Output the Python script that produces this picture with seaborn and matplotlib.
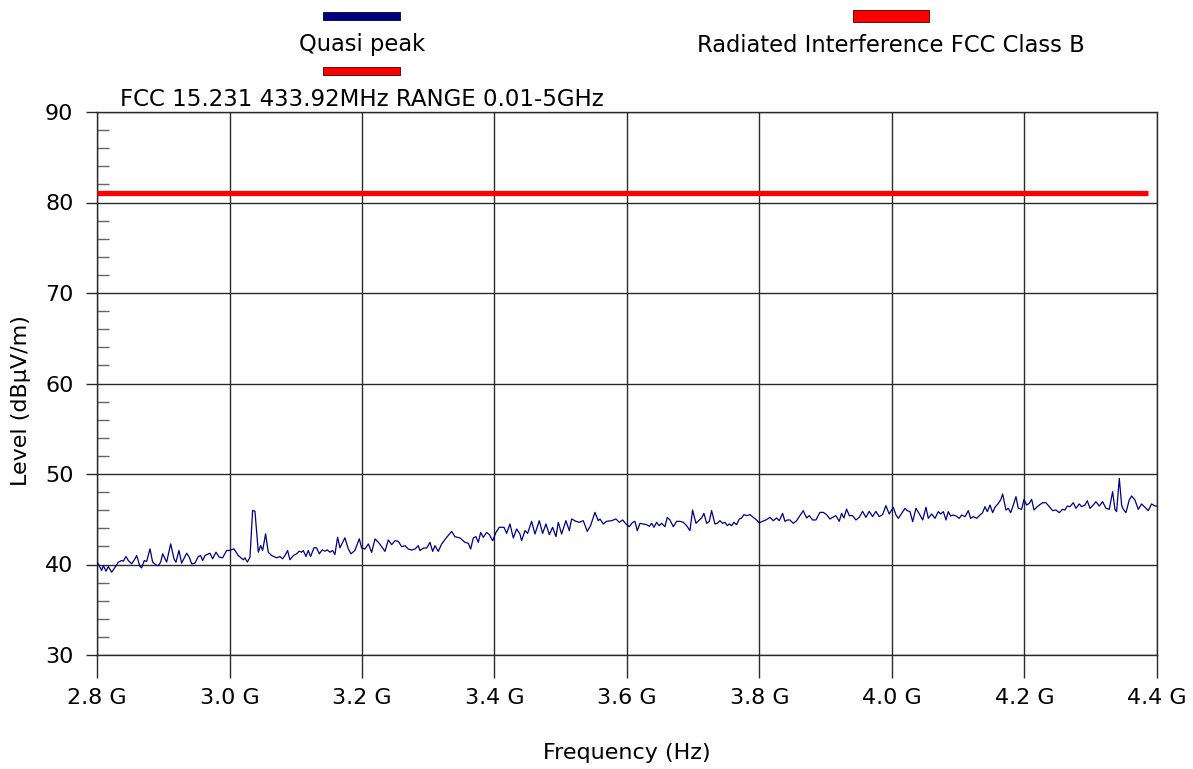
import numpy as np
import pandas as pd
import matplotlib
matplotlib.use("Agg")
import matplotlib.pyplot as plt
import seaborn as sns
from matplotlib.patches import Rectangle
from matplotlib.ticker import MultipleLocator, FixedLocator

# ---------------- data ----------------
freq_mhz = [
    2800.5, 2807.0, 2809.6, 2813.6, 2817.1, 2822.1, 2825.7, 2832.2, 2837.2, 2839.7,
    2843.8, 2847.3, 2852.3, 2857.3, 2859.9, 2864.9, 2867.4, 2871.4, 2874.9, 2880.0,
    2884.0, 2890.0, 2892.6, 2896.1, 2899.1, 2905.1, 2911.2, 2916.2, 2919.2, 2923.7,
    2927.8, 2935.3, 2939.3, 2942.9, 2947.9, 2952.9, 2956.4, 2959.5, 2963.0, 2970.5,
    2974.5, 2979.6, 2984.6, 2989.6, 2995.7, 2999.7, 3006.7, 3013.3, 3020.8, 3023.3,
    3026.9, 3030.9, 3034.9, 3038.4, 3043.5, 3047.0, 3050.0, 3054.5, 3058.5, 3063.6,
    3071.1, 3076.1, 3080.2, 3083.7, 3087.7, 3091.2, 3096.3, 3101.3, 3105.3, 3108.8,
    3111.4, 3115.4, 3118.9, 3122.4, 3127.5, 3131.5, 3135.5, 3140.0, 3144.1, 3147.6,
    3151.6, 3155.6, 3159.1, 3163.2, 3166.7, 3174.2, 3179.3, 3183.3, 3189.3, 3195.9,
    3199.5, 3204.5, 3209.6, 3214.6, 3219.6, 3224.7, 3229.7, 3234.7, 3239.7, 3244.8,
    3249.8, 3254.8, 3259.9, 3264.9, 3269.9, 3275.0, 3280.0, 3285.0, 3287.5, 3292.6,
    3297.6, 3302.6, 3306.6, 3310.2, 3315.2, 3320.2, 3327.8, 3335.3, 3340.3, 3347.9,
    3355.4, 3360.5, 3364.0, 3368.0, 3372.0, 3375.6, 3379.1, 3383.1, 3388.1, 3392.2,
    3397.2, 3402.2, 3407.2, 3414.3, 3418.3, 3423.3, 3428.4, 3433.4, 3438.4, 3440.9,
    3446.0, 3450.0, 3456.0, 3461.1, 3467.6, 3472.6, 3477.7, 3482.7, 3487.7, 3492.8,
    3496.3, 3501.3, 3507.8, 3512.9, 3516.4, 3522.9, 3528.0, 3534.0, 3540.0, 3545.0,
    3551.6, 3556.6, 3559.2, 3564.2, 3569.2, 3576.8, 3583.3, 3588.3,
    3593.4, 3598.4, 3603.5, 3608.5, 3612.0, 3615.5, 3619.6, 3624.6, 3629.6, 3633.7,
    3637.2, 3640.7, 3644.7, 3648.7, 3652.3, 3657.3, 3660.8, 3664.8, 3669.9, 3674.9,
    3679.9, 3685.0, 3690.0, 3695.0, 3699.0, 3704.1, 3709.1, 3712.6, 3716.1, 3720.2,
    3724.2, 3727.7, 3732.7, 3736.3, 3740.3, 3744.3, 3747.8, 3751.4, 3754.4, 3757.9,
    3761.4, 3765.4, 3769.5, 3773.0, 3776.5, 3780.5, 3785.6, 3790.6, 3795.6, 3799.6,
    3804.7, 3809.7, 3815.7, 3820.8, 3825.8, 3829.8, 3834.9, 3838.4, 3841.9, 3845.9,
    3851.0, 3856.0, 3860.0, 3866.0, 3871.1, 3875.1, 3880.1, 3885.2, 3891.2, 3896.2,
    3901.3, 3906.3, 3910.3, 3915.3, 3920.4, 3923.9, 3927.4, 3931.4, 3935.5, 3940.5,
    3945.5, 3950.5, 3955.6, 3960.6, 3965.6, 3970.7, 3975.7, 3980.7, 3985.8, 3990.8,
    3995.8,
    3997.0, 4002.0, 4006.0, 4009.6, 4014.6, 4019.6, 4023.1, 4027.2, 4031.2, 4036.2,
    4041.3, 4046.3, 4051.3, 4054.8, 4059.9, 4064.9, 4069.9, 4073.4, 4077.5, 4081.5,
    4085.0, 4088.5, 4092.6, 4096.6, 4101.6, 4105.1, 4110.2, 4115.2, 4118.7, 4122.7,
    4127.8, 4132.8, 4136.8, 4140.3, 4143.9, 4147.9, 4151.9, 4155.4, 4160.5, 4164.0,
    4167.0, 4172.0, 4175.6, 4179.1, 4183.1, 4187.1, 4190.6, 4195.7, 4199.2, 4203.2,
    4207.2, 4210.8, 4214.3, 4218.3, 4222.3, 4227.4, 4232.4, 4237.4, 4242.5, 4247.5,
    4252.5, 4257.5, 4261.1, 4264.6, 4268.6, 4273.6, 4277.7, 4282.7, 4286.2, 4291.2,
    4294.8, 4298.8, 4303.8, 4307.8, 4312.9, 4317.9, 4322.9, 4328.0, 4333.0, 4336.5,
    4339.0, 4343.1, 4346.6, 4349.1, 4353.1, 4358.1, 4361.7, 4366.7, 4371.7, 4376.8,
    4381.8, 4386.8, 4391.8, 4396.9, 4399.4,
]

quasi_peak_dbuv = [
    40.26, 39.34, 39.89, 39.26, 39.78, 39.15, 39.52, 40.26, 40.44, 40.37,
    40.88, 40.44, 40.07, 40.63, 40.99, 39.78, 39.63, 40.44, 40.33, 41.73,
    40.26, 39.89, 39.89, 40.26, 41.18, 40.26, 42.28, 40.63, 40.26, 41.55,
    40.15, 41.25, 40.81, 40.07, 40.15, 40.88, 40.99, 40.44, 40.99, 41.25,
    40.63, 41.36, 40.81, 40.74, 41.55, 41.55, 41.73, 40.99, 40.52, 40.74,
    40.26, 40.81, 45.97, 45.89, 41.36, 42.10, 41.55, 43.39, 41.36, 40.99,
    40.74, 40.88, 40.63, 40.99, 41.55, 40.52, 40.99, 41.18, 41.47, 41.36,
    41.55, 40.88, 41.55, 40.88, 41.84, 41.84, 41.18, 41.62, 41.47, 41.62,
    41.36, 41.55, 41.10, 43.02, 41.84, 42.95, 41.73, 41.18, 41.55, 42.84,
    41.82, 41.71, 42.27, 41.34, 42.82, 42.45, 41.97, 41.45, 42.71, 42.19,
    42.63, 42.56, 41.97, 42.08, 41.71, 41.60, 41.71, 42.08, 41.53, 41.82,
    41.82, 42.45, 41.45, 42.08, 41.45, 42.27, 43.00, 43.66, 43.08, 42.93,
    42.45, 42.34, 41.71, 42.93, 43.08, 42.45, 43.55, 43.00, 43.55, 43.30,
    42.63, 43.55, 44.11, 44.11, 43.44, 44.48, 42.93, 43.92, 43.37, 42.63,
    43.74, 43.44, 44.77, 43.37, 44.84, 43.44, 44.48, 43.30, 44.11, 43.08,
    44.66, 43.37, 44.84, 43.74, 45.03, 44.77, 44.66, 44.84, 43.66, 44.29,
    45.76, 44.84, 45.03, 44.48, 44.77, 44.84, 45.03, 44.66,
    44.92, 44.48, 44.18, 44.66, 44.77, 43.74, 44.55, 44.48, 44.40, 44.22,
    44.55, 44.11, 44.66, 44.29, 44.55, 44.18, 45.21, 44.92, 44.18, 44.77,
    44.77, 44.66, 44.29, 43.74, 46.02, 44.55, 44.92, 45.14, 45.65, 44.55,
    44.77, 45.95, 44.48, 44.55, 44.84, 44.55, 44.66, 44.29, 44.48, 44.29,
    44.66, 44.40, 45.03, 45.14, 45.51, 45.40, 45.51, 45.21, 44.92, 44.59,
    44.77, 44.92, 45.21, 44.84, 45.14, 44.84, 45.65, 44.77, 44.92, 44.92,
    44.55, 44.84, 45.29, 45.95, 45.14, 45.40, 44.92, 44.92, 45.76, 45.76,
    45.51, 45.03, 45.21, 45.40, 44.77, 45.65, 45.14, 46.13, 45.40, 45.40,
    44.92, 45.21, 45.87, 45.21, 45.87, 45.29, 45.87, 45.29, 45.51, 46.50,
    45.58,
    45.73, 46.32, 45.47, 45.10, 45.65, 46.21, 45.95, 45.84, 44.73, 46.21,
    45.58, 44.92, 46.32, 45.10, 45.58, 45.10, 45.84, 45.58, 45.84, 44.92,
    45.84, 45.36, 45.47, 45.36, 45.10, 45.47, 45.29, 45.95, 45.10, 45.29,
    45.10, 45.47, 45.73, 46.39, 45.84, 46.57, 45.73, 46.32, 46.76, 47.13,
    47.79, 46.02, 46.21, 45.73, 46.57, 47.50, 46.21, 46.10, 47.20, 46.57,
    46.76, 47.20, 46.02, 46.32, 46.57, 46.83, 46.83, 46.39, 45.95, 46.02,
    45.73, 46.10, 46.02, 46.46, 46.39, 46.83, 46.21, 46.69, 46.39, 46.57,
    47.05, 46.21, 46.57, 46.94, 46.46, 46.94, 46.21, 46.10, 48.05, 46.10,
    45.84, 49.52, 46.57, 46.10, 45.73, 47.13, 47.57, 47.13, 46.10, 46.69,
    46.32, 45.95, 46.69, 46.46, 46.46,
]

limit_freq_mhz = [2800.0, 4386.0]
limit_dbuv = [81.1, 81.1]

x_ticks_ghz = [2.8, 3.0, 3.2, 3.4, 3.6, 3.8, 4.0, 4.2, 4.4]
x_tick_labels = ["2.8 G", "3.0 G", "3.2 G", "3.4 G", "3.6 G", "3.8 G", "4.0 G", "4.2 G", "4.4 G"]
y_ticks = [30, 40, 50, 60, 70, 80, 90]

legend_labels = ["Quasi peak", "Radiated Interference FCC Class B",
                 "FCC 15.231 433.92MHz RANGE 0.01-5GHz"]
legend_colors = ["#000080", "#ff0000", "#ff0000"]

# ---------------- styling ----------------
sns.set_theme(style="white")
plt.rcParams["font.family"] = ["DejaVu Sans"]
plt.rcParams["text.color"] = "black"

W, H = 1193, 769
fig = plt.figure(figsize=(W / 100, H / 100), dpi=100)
fig.patch.set_facecolor("white")

ax_l, ax_r, ax_t, ax_b = 97, 1157, 112, 655
ax = fig.add_axes([ax_l / W, 1 - ax_b / H, (ax_r - ax_l) / W, (ax_b - ax_t) / H])

qp = pd.DataFrame({"freq": np.array(freq_mhz) / 1000.0, "level": quasi_peak_dbuv})
lim = pd.DataFrame({"freq": np.array(limit_freq_mhz) / 1000.0, "level": limit_dbuv})

sns.lineplot(data=qp, x="freq", y="level", ax=ax, color="#000080", linewidth=0.9,
             estimator=None, sort=False, zorder=3)
sns.lineplot(data=lim, x="freq", y="level", ax=ax, color="#ff0000", linewidth=3.8,
             estimator=None, sort=False, zorder=4, solid_capstyle="butt")

ax.set_xlim(2.8, 4.4)
ax.set_ylim(30, 90)
ax.xaxis.set_major_locator(FixedLocator(x_ticks_ghz))
ax.set_xticklabels(x_tick_labels)
ax.yaxis.set_major_locator(FixedLocator(y_ticks))
ax.yaxis.set_minor_locator(MultipleLocator(2))

ax.grid(True, which="major", color="#2a2a2a", linewidth=1.0, zorder=1)
ax.set_axisbelow(True)

for s in ax.spines.values():
    s.set_color("#2a2a2a")
    s.set_linewidth(1.0)

ax.tick_params(axis="x", which="major", bottom=True, direction="out", length=16.5,
               width=1.0, color="#2a2a2a", pad=7, labelsize=16, labelcolor="black")
ax.tick_params(axis="y", which="major", left=True, direction="out", length=8,
               width=1.0, color="#2a2a2a", pad=9, labelsize=16, labelcolor="black")
ax.tick_params(axis="y", which="minor", left=True, direction="in", length=8.5,
               width=1.0, color="#666666")

ax.set_xlabel("Frequency (Hz)", fontsize=16, color="black")
ax.xaxis.set_label_coords(0.5, -0.162)
ax.set_ylabel("Level (dBµV/m)", fontsize=16, color="black", va="center")
ax.yaxis.set_label_coords((21 - ax_l) / (ax_r - ax_l), (ax_b - 401) / (ax_b - ax_t))

# ---------------- legend (drawn at the top, patches above labels) ----------------
def fig_rect(x0, y0, x1, y1, color):
    fig.add_artist(Rectangle((x0 / W, 1 - y1 / H), (x1 - x0) / W, (y1 - y0) / H,
                             transform=fig.transFigure, facecolor=color,
                             edgecolor="#400000" if color != "#000080" else "#000040",
                             linewidth=0.6))

fig_rect(323, 12, 400, 20, legend_colors[0])
fig.text(362 / W, 1 - 45 / H, legend_labels[0], ha="center", va="center",
         fontsize=16.3, color="black")
fig_rect(853, 10, 929, 22, legend_colors[1])
fig.text(891 / W, 1 - 45 / H, legend_labels[1], ha="center", va="center",
         fontsize=16.3, color="black")
fig_rect(323, 67, 400, 75, legend_colors[2])
fig.text(362 / W, 1 - 100 / H, legend_labels[2], ha="center", va="center",
         fontsize=16.5, color="black")

fig.savefig("out.png", dpi=100, facecolor="white")
